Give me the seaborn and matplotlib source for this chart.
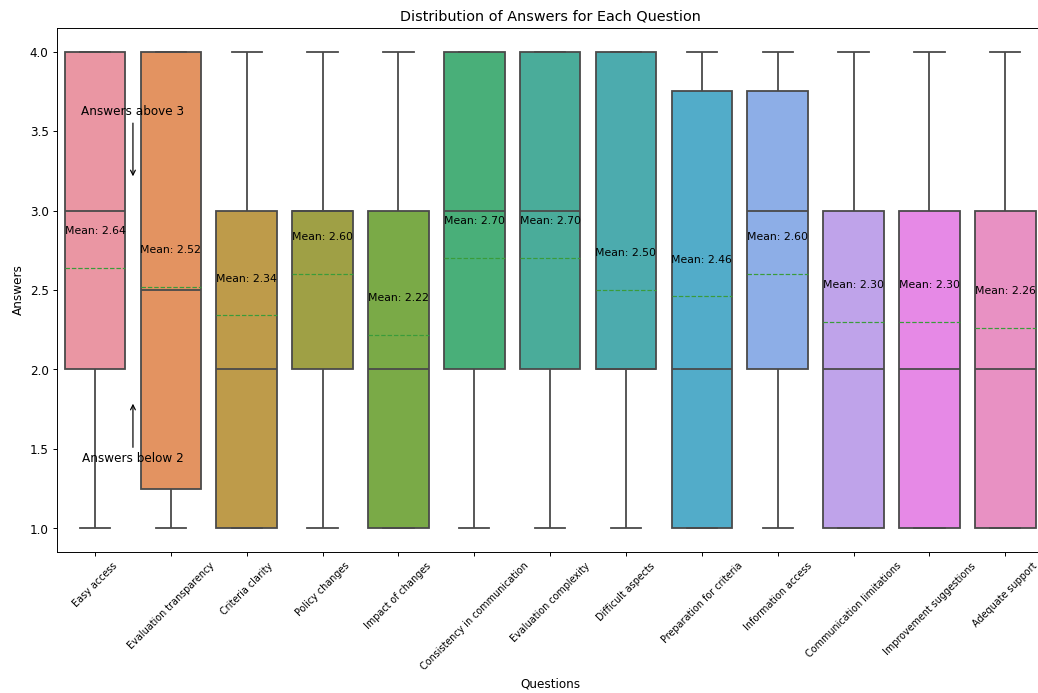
import matplotlib
matplotlib.use("Agg")
import matplotlib.pyplot as plt
import numpy as np
import pandas as pd
import seaborn as sns

questions = [
    "Easy access", "Evaluation transparency", "Criteria clarity", "Policy changes",
    "Impact of changes", "Consistency in communication", "Evaluation complexity",
    "Difficult aspects", "Preparation for criteria", "Information access",
    "Communication limitations", "Improvement suggestions", "Adequate support",
]
answer_levels = [1, 2, 3, 4]

# number of respondents giving answer 1, 2, 3, 4 for each question (n = 50)
count_1 = [12, 13, 14, 7, 16, 11, 10, 12, 14, 11, 15, 16, 16]
count_2 = [12, 12, 13, 15, 13, 11, 13, 16, 12, 11, 13, 12, 13]
count_3 = [8, 11, 15, 19, 15, 10, 9, 7, 11, 15, 14, 13, 13]
count_4 = [18, 14, 8, 9, 6, 18, 18, 15, 13, 13, 8, 9, 8]

rows = []
for i, q in enumerate(questions):
    counts = [count_1[i], count_2[i], count_3[i], count_4[i]]
    for a in np.repeat(answer_levels, counts):
        rows.append({"Questions": q, "Answers": a})
df = pd.DataFrame(rows)

# 12x8 inch figure rendered at 1038x693
fig, ax = plt.subplots(figsize=(12, 8.012), dpi=86.5)
plt.subplots_adjust(left=0.055, right=1.005, top=0.96, bottom=0.203)

palette = sns.husl_palette(len(questions), l=0.7)
sns.boxplot(
    data=df, x="Questions", y="Answers", hue="Questions", order=questions,
    palette=palette, saturation=0.75, width=0.8, linecolor="#4a4a4a", linewidth=1.5,
    showmeans=True, meanline=True,
    meanprops=dict(color="#3a9c3a", linestyle="--", linewidth=1),
    legend=False, ax=ax,
)

means = df.groupby("Questions")["Answers"].mean().reindex(questions)
for i, m in enumerate(means):
    ax.text(i, m + 0.2, f"Mean: {m:.2f}", ha="center", va="bottom", fontsize=9)

ax.annotate("Answers above 3", xy=(0.5, 3.2), xytext=(0.5, 3.58), ha="center", va="bottom",
            fontsize=10, arrowprops=dict(arrowstyle="->", color="black"))
ax.annotate("Answers below 2", xy=(0.5, 1.8), xytext=(0.5, 1.48), ha="center", va="top",
            fontsize=10, arrowprops=dict(arrowstyle="->", color="black"))

ax.set_title("Distribution of Answers for Each Question")
ax.set_xlabel("Questions")
ax.set_ylabel("Answers")
plt.xticks(rotation=45, fontsize=8)

plt.savefig("out.png")
